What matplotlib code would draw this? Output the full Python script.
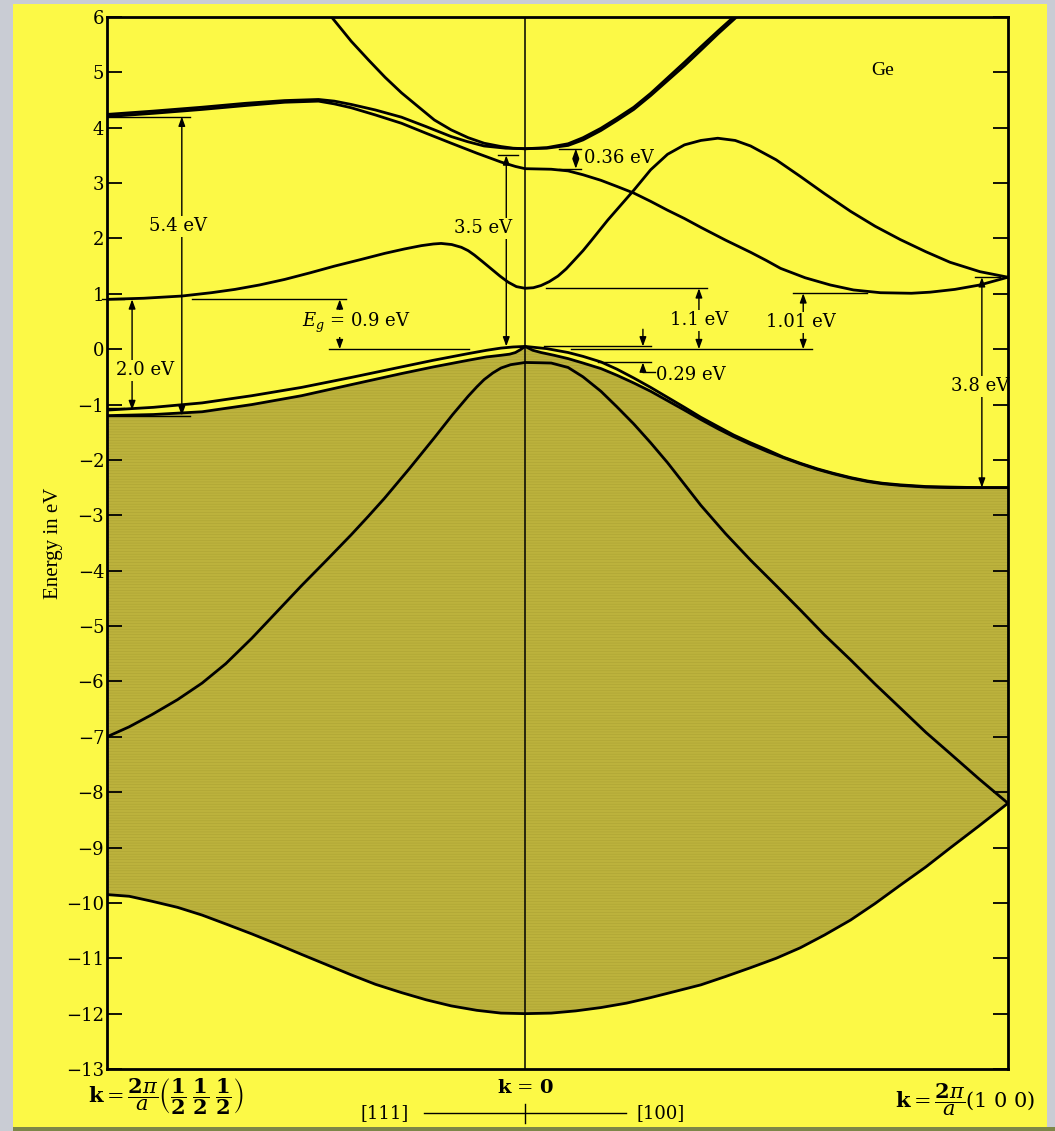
import numpy as np
import matplotlib
matplotlib.use("Agg")
import matplotlib.pyplot as plt
from matplotlib.patches import Rectangle

plt.rcParams['font.family'] = ['DejaVu Serif']
plt.rcParams['mathtext.fontset'] = 'dejavuserif'
plt.rcParams['hatch.linewidth'] = 0.35

YELLOW = '#fcf946'
SHADE = '#bcb23c'

# k in units of 2*pi/a: negative side runs along [111] to L, positive along [100] to X
k_L, k_X = -0.866, 1.0

# lowest valence band
k_v1 = [-0.866, -0.82, -0.773, -0.72, -0.669, -0.62, -0.566, -0.515, -0.463, -0.41,
        -0.360, -0.31, -0.256, -0.205, -0.153, -0.10, -0.050, 0.0, 0.054, 0.105,
        0.157, 0.21, 0.260, 0.31, 0.364, 0.415, 0.467, 0.52, 0.570, 0.62,
        0.674, 0.725, 0.777, 0.83, 0.880, 0.94, 1.0]
E_v1 = [-9.85, -9.88, -9.97, -10.08, -10.22, -10.38, -10.56, -10.74, -10.93, -11.12,
        -11.30, -11.47, -11.62, -11.75, -11.86, -11.94, -11.99, -12.0, -11.99, -11.95,
        -11.89, -11.81, -11.71, -11.60, -11.48, -11.33, -11.17, -11.00, -10.81, -10.58,
        -10.31, -10.01, -9.68, -9.35, -9.01, -8.61, -8.2]

# split-off band
k_v2 = [-0.866, -0.82, -0.773, -0.72, -0.669, -0.62, -0.566, -0.515, -0.463, -0.41,
        -0.360, -0.325, -0.291, -0.24, -0.188, -0.15, -0.118, -0.10, -0.085, -0.067,
        -0.050, -0.03, 0.0, 0.03, 0.054, 0.089, 0.12, 0.157, 0.19, 0.225,
        0.26, 0.295, 0.33, 0.364, 0.415, 0.467, 0.52, 0.570, 0.62, 0.674,
        0.725, 0.777, 0.83, 0.880, 0.94, 1.0]
E_v2 = [-7.0, -6.82, -6.60, -6.33, -6.03, -5.68, -5.22, -4.75, -4.27, -3.80,
        -3.35, -3.02, -2.69, -2.16, -1.60, -1.18, -0.85, -0.68, -0.55, -0.43,
        -0.34, -0.28, -0.24, -0.245, -0.25, -0.33, -0.50, -0.76, -1.04, -1.35,
        -1.69, -2.05, -2.44, -2.82, -3.33, -3.81, -4.27, -4.71, -5.16, -5.61,
        -6.05, -6.48, -6.92, -7.30, -7.76, -8.2]

# light holes
k_lh = [-0.866, -0.77, -0.669, -0.566, -0.463, -0.36, -0.256, -0.19, -0.118, -0.08,
        -0.050, -0.032, -0.020, -0.010, 0.0, 0.016, 0.033, 0.06, 0.089, 0.12, 0.157,
        0.19, 0.225, 0.26, 0.295, 0.33, 0.364, 0.40, 0.432, 0.467, 0.502,
        0.535, 0.570, 0.605, 0.638, 0.675, 0.709, 0.74, 0.777, 0.83, 0.880,
        0.94, 1.0]
E_lh = [-1.2, -1.18, -1.13, -1.0, -0.84, -0.64, -0.44, -0.32, -0.20, -0.14,
        -0.11, -0.09, -0.06, -0.01, 0.05, -0.02, -0.06, -0.11, -0.17, -0.25, -0.35,
        -0.47, -0.61, -0.76, -0.93, -1.10, -1.27, -1.44, -1.58, -1.72, -1.85,
        -1.96, -2.07, -2.17, -2.25, -2.33, -2.39, -2.43, -2.46, -2.49, -2.50,
        -2.50, -2.5]

# heavy holes
k_hh = [-0.866, -0.77, -0.669, -0.566, -0.463, -0.36, -0.256, -0.19, -0.118, -0.08,
        -0.050, -0.025, 0.0, 0.045, 0.089, 0.12, 0.157, 0.19, 0.225, 0.26,
        0.295, 0.33, 0.364, 0.40, 0.432, 0.467, 0.502, 0.535, 0.570, 0.605,
        0.638, 0.675, 0.709, 0.74, 0.777, 0.83, 0.880, 0.94, 1.0]
E_hh = [-1.1, -1.05, -0.97, -0.84, -0.69, -0.51, -0.32, -0.20, -0.08, -0.02,
        0.02, 0.04, 0.05, 0.01, -0.06, -0.13, -0.23, -0.36, -0.52, -0.69,
        -0.87, -1.05, -1.23, -1.40, -1.55, -1.69, -1.82, -1.95, -2.06, -2.16,
        -2.24, -2.32, -2.38, -2.42, -2.45, -2.48, -2.49, -2.50, -2.5]

# lowest conduction band
k_c1 = [-0.866, -0.79, -0.711, -0.65, -0.601, -0.55, -0.498, -0.445, -0.395, -0.34,
        -0.291, -0.25, -0.215, -0.19, -0.174, -0.152, -0.132, -0.118, -0.105, -0.088,
        -0.070, -0.052, -0.035, -0.018, 0.0, 0.017, 0.033, 0.050, 0.068, 0.085,
        0.101, 0.12, 0.136, 0.171, 0.20, 0.225, 0.26, 0.295, 0.33, 0.364,
        0.399, 0.435, 0.467, 0.52, 0.570, 0.62, 0.674, 0.725, 0.777, 0.83,
        0.880, 0.942, 1.0]
E_c1 = [0.9, 0.92, 0.96, 1.02, 1.08, 1.16, 1.26, 1.38, 1.50, 1.62,
        1.73, 1.81, 1.87, 1.90, 1.91, 1.89, 1.84, 1.78, 1.70, 1.58,
        1.45, 1.32, 1.21, 1.13, 1.1, 1.11, 1.15, 1.22, 1.32, 1.45,
        1.60, 1.78, 1.95, 2.33, 2.62, 2.87, 3.24, 3.52, 3.69, 3.77,
        3.81, 3.77, 3.67, 3.42, 3.12, 2.81, 2.49, 2.22, 1.98, 1.76,
        1.57, 1.40, 1.3]

# second conduction band (3.26 eV at k = 0)
k_c2 = [-0.866, -0.77, -0.669, -0.58, -0.498, -0.428, -0.395, -0.360, -0.31, -0.256,
        -0.205, -0.153, -0.10, -0.050, -0.02, 0.0, 0.054, 0.089, 0.12, 0.157,
        0.19, 0.225, 0.26, 0.295, 0.33, 0.364, 0.415, 0.467, 0.50, 0.529,
        0.58, 0.632, 0.68, 0.736, 0.80, 0.839, 0.89, 0.942, 1.0]
E_c2 = [4.2, 4.26, 4.33, 4.40, 4.46, 4.48, 4.43, 4.36, 4.23, 4.08,
        3.90, 3.72, 3.54, 3.38, 3.30, 3.26, 3.25, 3.22, 3.15, 3.05,
        2.94, 2.82, 2.67, 2.51, 2.36, 2.20, 1.97, 1.75, 1.60, 1.46,
        1.29, 1.16, 1.07, 1.02, 1.01, 1.03, 1.08, 1.16, 1.3]

# upper pair meeting at 3.62 eV at k = 0
k_c3 = [-0.866, -0.77, -0.669, -0.58, -0.498, -0.428, -0.395, -0.360, -0.31, -0.256,
        -0.205, -0.153, -0.12, -0.085, -0.04, 0.0, 0.045, 0.089, 0.12, 0.157,
        0.19, 0.225, 0.26, 0.295, 0.33, 0.364, 0.40, 0.438]
E_c3 = [4.24, 4.30, 4.37, 4.44, 4.49, 4.51, 4.48, 4.42, 4.32, 4.19,
        4.02, 3.84, 3.75, 3.67, 3.63, 3.62, 3.63, 3.68, 3.78, 3.95,
        4.13, 4.33, 4.58, 4.85, 5.12, 5.40, 5.70, 6.0]

k_c4 = [-0.401, -0.36, -0.324, -0.29, -0.256, -0.22, -0.188, -0.153, -0.118, -0.085,
        -0.050, -0.025, 0.0, 0.045, 0.089, 0.12, 0.157, 0.19, 0.225, 0.26,
        0.295, 0.33, 0.364, 0.40, 0.432]
E_c4 = [6.0, 5.56, 5.22, 4.91, 4.63, 4.37, 4.14, 3.96, 3.82, 3.72,
        3.66, 3.63, 3.62, 3.64, 3.71, 3.82, 3.99, 4.17, 4.37, 4.62,
        4.90, 5.18, 5.46, 5.75, 6.0]

bands = [(k_v1, E_v1), (k_v2, E_v2), (k_lh, E_lh), (k_hh, E_hh),
         (k_c1, E_c1), (k_c2, E_c2), (k_c3, E_c3), (k_c4, E_c4)]

# characteristic energies used for the gap markers
E_L_cond, E_L_val, E_L_val2, E_L_upper = 0.9, -1.1, -1.2, 4.2
E_G_cond, E_G_upper, E_G_lower, E_G_so = 1.1, 3.62, 3.26, -0.24
E_G_top, E_X_min, E_X_cond, E_X_val = 0.05, 1.01, 1.3, -2.5

fig = plt.figure(figsize=(10.55, 11.31), dpi=100)
fig.patch.set_facecolor('#c9ccd4')
fig.patches.append(Rectangle((0.0123, 0.0035), 0.980, 0.993, transform=fig.transFigure,
                             facecolor=YELLOW, edgecolor='none', zorder=-10))
fig.patches.append(Rectangle((0.0123, 0.0), 0.988, 0.0035, transform=fig.transFigure,
                             facecolor='#7d8748', edgecolor='none', zorder=-10))

ax = fig.add_axes([0.1014, 0.0548, 0.8540, 0.9302])
ax.set_facecolor(YELLOW)
ax.set_xlim(k_L, k_X)
ax.set_ylim(-13, 6)

# occupied region between the valence band top and the bottom band
ax.fill(np.r_[k_lh, k_v1[::-1]], np.r_[E_lh, E_v1[::-1]], facecolor=SHADE,
        edgecolor='#aaa132', linewidth=0, hatch='------', zorder=1)

for k, E in bands:
    ax.plot(k, E, color='black', lw=2.0, zorder=3,
            solid_capstyle='round', solid_joinstyle='round')

ax.axvline(0, color='black', lw=1.1, zorder=2)

ax.set_yticks(range(-13, 7))
ax.set_yticklabels([str(v).replace('-', '\u2212') for v in range(-13, 7)])
ax.set_xticks([])
ax.tick_params(axis='y', direction='in', length=11, width=1.3, right=True,
               labelsize=13, pad=2)
for s in ax.spines.values():
    s.set_linewidth(2.0)
    s.set_zorder(8)
ax.set_ylabel('Energy in eV', family='Liberation Serif', fontsize=15, labelpad=2)

thin = dict(color='black', lw=1.0, zorder=4)


def hline(e, k0, k1, clip=True):
    ax.plot([k0, k1], [e, e], clip_on=clip, **thin)


def arrow(k, e0, e1, style='<|-|>'):
    ax.annotate('', xy=(k, e1), xytext=(k, e0),
                arrowprops=dict(arrowstyle=style + ',head_length=0.55,head_width=0.2',
                                lw=1.0, color='black', shrinkA=0, shrinkB=0), zorder=4)


def label(k, e, s, ha='center'):
    ax.text(k, e, s, ha=ha, va='center', fontsize=13, zorder=6,
            bbox=dict(facecolor=YELLOW, edgecolor='none', pad=1.0))


# 5.4 eV at L
hline(E_L_upper, k_L, -0.694)
hline(E_L_val2, k_L, -0.694)
arrow(-0.711, E_L_val2, E_L_upper)
label(-0.719, 2.22, '5.4 eV')

# 2.0 eV at L
hline(E_L_cond, -0.876, -0.831, clip=False)
hline(E_L_val + 0.03, k_L, -0.831)
arrow(-0.814, E_L_val, E_L_cond)
label(-0.787, -0.38, '2.0 eV')

# indirect gap
hline(E_L_cond, -0.690, -0.370)
hline(0.0, -0.407, -0.116)
arrow(-0.384, 0.0, E_L_cond)
label(-0.463, 0.47, r'$E_g$ = 0.9 eV', ha='left')

# 3.5 eV at k = 0
hline(3.5, -0.056, -0.014)
arrow(-0.039, E_G_top, 3.5)
label(-0.087, 2.18, '3.5 eV')

# 0.36 eV splitting
hline(E_G_upper, 0.070, 0.116)
hline(E_G_lower, 0.070, 0.116)
arrow(0.105, E_G_lower, E_G_upper)
ax.text(0.122, 3.45, '0.36 eV', ha='left', va='center', fontsize=13, zorder=6)

# direct gap 1.1 eV and zero reference
hline(E_G_cond, 0.043, 0.376)
hline(0.0, 0.095, 0.595)
arrow(0.360, 0.0, E_G_cond)
label(0.360, 0.52, '1.1 eV')

# spin-orbit splitting 0.29 eV
hline(E_G_top, 0.039, 0.260)
hline(E_G_so, 0.151, 0.260)
arrow(0.244, 0.36, E_G_top, style='-|>')
arrow(0.244, -0.42, E_G_so, style='-|>')
ax.plot([0.244, 0.268], [-0.42, -0.42], **thin)
ax.text(0.272, -0.46, '0.29 eV', ha='left', va='center', fontsize=13, zorder=6)

# 1.01 eV minimum along [100]
hline(E_X_min, 0.554, 0.709)
arrow(0.576, 0.0, E_X_min)
label(0.572, 0.49, '1.01 eV')

# 3.8 eV at X
hline(E_X_cond, 0.932, 0.983)
arrow(0.946, E_X_val, E_X_cond)
label(0.942, -0.67, '3.8 eV')

ax.text(0.74, 5.04, 'Ge', ha='center', va='center', fontsize=14,
        family='Liberation Serif')

# labels below the k axis
trans = ax.get_xaxis_transform()
half = r'\dfrac{\mathbf{1}}{\mathbf{2}}'
ax.text(-0.905, -0.0265,
        r'$\mathbf{k} = \dfrac{\mathbf{2}\pi}{a}\left(' + half + r'\;' + half + r'\;'
        + half + r'\right)$',
        transform=trans, ha='left', va='center', fontsize=15)
ax.text(0.0, -0.018, r'$\mathbf{k}$ = $\mathbf{0}$', transform=trans,
        ha='center', va='center', fontsize=14)
ax.text(1.056, -0.0295, r'$\mathbf{k} = \dfrac{\mathbf{2}\pi}{a}$(1 0 0)',
        transform=trans, ha='right', va='center', fontsize=15)
ax.text(-0.291, -0.0415, '[111]', transform=trans, ha='center', va='center', fontsize=13)
ax.text(0.281, -0.0415, '[100]', transform=trans, ha='center', va='center', fontsize=13)
ax.plot([-0.209, 0.209], [-0.042, -0.042], transform=trans, clip_on=False,
        color='black', lw=1.0)
ax.plot([0, 0], [-0.033, -0.051], transform=trans, clip_on=False,
        color='black', lw=1.0)

fig.savefig('out.png', dpi=100, facecolor=fig.get_facecolor())
